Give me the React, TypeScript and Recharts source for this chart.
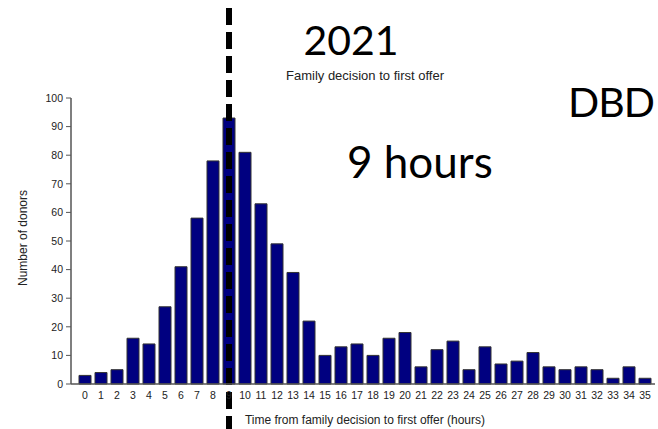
import { BarChart, Bar, XAxis, YAxis, ReferenceLine } from 'recharts';

const hours = [
  0, 1, 2, 3, 4, 5, 6, 7, 8, 9, 10, 11, 12, 13, 14, 15, 16, 17,
  18, 19, 20, 21, 22, 23, 24, 25, 26, 27, 28, 29, 30, 31, 32, 33, 34, 35,
];
const donors = [
  3, 4, 5, 16, 14, 27, 41, 58, 78, 93, 81, 63, 49, 39, 22, 10, 13, 14,
  10, 16, 18, 6, 12, 15, 5, 13, 7, 8, 11, 6, 5, 6, 5, 2, 6, 2,
];
const yTicks = [0, 10, 20, 30, 40, 50, 60, 70, 80, 90, 100];
const medianHour = 9;

const data = hours.map((h, i) => ({ hour: h, donors: donors[i] }));

const W = 658;
const H = 429;
const sans = '"Liberation Sans", Arial, sans-serif';
const bigFont = 'Lato, "Open Sans", sans-serif';

// dashed median line drawn across the whole picture, x from the axis scale
function MedianLine(props: any) {
  const x = props.x1 ?? props.x;
  return (
    <line
      x1={x}
      x2={x}
      y1={8}
      y2={H}
      stroke="#000"
      strokeWidth={6}
      strokeDasharray="17 7"
    />
  );
}

export default function App() {
  return (
    <div style={{ position: 'absolute', top: 0, left: 0, width: W, height: H, background: '#fff' }}>
      <BarChart
        width={W}
        height={H}
        data={data}
        margin={{ top: 98, right: 3, bottom: 0, left: 0 }}
        barCategoryGap={2}
      >
        <XAxis
          dataKey="hour"
          type="category"
          interval={0}
          height={45}
          padding={{ left: 6, right: 2 }}
          axisLine={{ stroke: '#555', strokeWidth: 1.5 }}
          tickLine={false}
          tick={{ fontSize: 10.5, fill: '#222', fontFamily: sans }}
        />
        <YAxis
          width={71}
          domain={[0, 100]}
          ticks={yTicks}
          interval={0}
          axisLine={{ stroke: '#555', strokeWidth: 1.5 }}
          tickLine={{ stroke: '#555' }}
          tickSize={5}
          tickMargin={3}
          tick={{ fontSize: 10.5, fill: '#222', fontFamily: sans }}
        />
        <Bar
          dataKey="donors"
          fill="#000080"
          stroke="#333"
          strokeWidth={1}
          isAnimationActive={false}
        />
        <ReferenceLine x={medianHour} shape={MedianLine} />
      </BarChart>
      <svg
        width={W}
        height={H}
        style={{ position: 'absolute', top: 0, left: 0, pointerEvents: 'none' }}
      >
        <text x={351} y={55} fontSize={41} fontFamily={bigFont} textAnchor="middle" fill="#000">
          2021
        </text>
        <text x={365} y={80} fontSize={13} fontFamily={sans} textAnchor="middle" fill="#222">
          Family decision to first offer
        </text>
        <text x={611} y={117} fontSize={41} fontFamily={bigFont} textAnchor="middle" letterSpacing={-1} fill="#000">
          DBD
        </text>
        <text x={347} y={178} fontSize={44} fontFamily={bigFont} fill="#000">
          9 hours
        </text>
        <text
          x={27}
          y={238}
          fontSize={12}
          fontFamily={sans}
          textAnchor="middle"
          fill="#222"
          transform="rotate(-90 27 238)"
        >
          Number of donors
        </text>
        <text x={365} y={424} fontSize={12} fontFamily={sans} textAnchor="middle" fill="#222">
          Time from family decision to first offer (hours)
        </text>
      </svg>
    </div>
  );
}
